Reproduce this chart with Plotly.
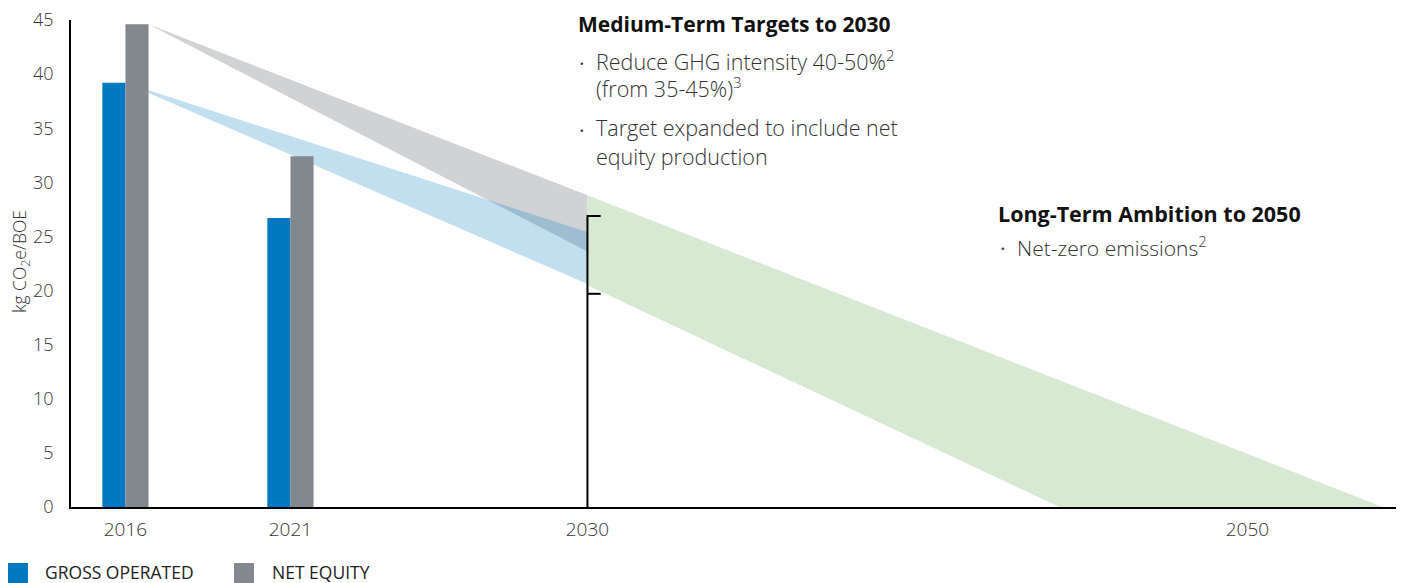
import plotly.graph_objects as go

# ---------------- data ----------------
bar_years = [2016, 2021]
gross_operated = [39.2, 26.7]
net_equity = [44.6, 32.4]

tick_years = [2016, 2021, 2030, 2050]
tick_labels = ["2016", "2021", "2030", "2050"]
y_ticks = [0, 5, 10, 15, 20, 25, 30, 35, 40, 45]

target_year = 2030
net_equity_2030_range = [28.8, 23.6]      # top, bottom of net-equity pathway at 2030
gross_operated_2030_range = [25.4, 20.6]  # top, bottom of gross-operated pathway at 2030
net_zero_2030_range = [28.8, 20.5]        # top, bottom of long-term band at 2030
net_zero_years = [2054.1, 2044.3]         # years at which top / bottom edge reach zero
target_bracket = [26.9, 19.7]             # bracket marks at 2030

# ---------------- style ----------------
BLUE = "#0079C1"
GREY = "#83878E"
GREY_BAND = "#D1D2D4"
BLUE_BAND = "#C2DFF0"
OVERLAP = "#9EBDD1"
GREEN_BAND = "#D7E9D3"
TEXT = "#333333"
FONT = "Open Sans"

OFF = 8                      # page body margin
W, H = 1404 - 2 * OFF, 583 - OFF
L, T = 71 - OFF, 20 - OFF
PW, PH = 1325, 487
R, B = W - L - PW, H - T - PH
BAR_W = 0.7
X_RANGE = [2014.35, 2014.35 + PW / 33.0]


def px_x(px):  # page pixel -> paper
    return (px - OFF - L) / PW


def px_y(py):
    return (T + PH - (py - OFF)) / PH


fig = go.Figure()

fig.add_trace(go.Bar(x=bar_years, y=gross_operated, width=BAR_W, offset=-BAR_W,
                     marker=dict(color=BLUE, line=dict(width=0)), name="GROSS OPERATED",
                     showlegend=False))
fig.add_trace(go.Bar(x=bar_years, y=net_equity, width=BAR_W, offset=0,
                     marker=dict(color=GREY, line=dict(width=0)), name="NET EQUITY",
                     showlegend=False))


def path(points):
    return "M " + " L ".join(f"{x},{y}" for x, y in points) + " Z"


shapes = []
# net equity pathway (grey)
g0 = (bar_years[0] + BAR_W, net_equity[0])
grey_pts = [g0, (target_year, net_equity_2030_range[0]), (target_year, net_equity_2030_range[1])]
shapes.append(dict(type="path", xref="x", yref="y", path=path(grey_pts), fillcolor=GREY_BAND,
                   line=dict(width=0), layer="below"))
# gross operated pathway (blue)
b0 = (bar_years[0], gross_operated[0])
blue_pts = [b0, (target_year, gross_operated_2030_range[0]), (target_year, gross_operated_2030_range[1])]
shapes.append(dict(type="path", xref="x", yref="y", path=path(blue_pts), fillcolor=BLUE_BAND,
                   line=dict(width=0), layer="below"))


# overlap between the two pathways
def line_at(p, q):
    s = (q[1] - p[1]) / (q[0] - p[0])
    return s, p[1] - s * p[0]


s1, c1 = line_at(b0, (target_year, gross_operated_2030_range[0]))
s2, c2 = line_at(g0, (target_year, net_equity_2030_range[1]))
xi = (c2 - c1) / (s1 - s2)
yi = s1 * xi + c1
ov_pts = [(xi, yi), (target_year, gross_operated_2030_range[0]), (target_year, net_equity_2030_range[1])]
shapes.append(dict(type="path", xref="x", yref="y", path=path(ov_pts), fillcolor=OVERLAP,
                   line=dict(width=0), layer="below"))
# long-term band (green)
green_pts = [(target_year, net_zero_2030_range[0]), (net_zero_years[0], 0),
             (net_zero_years[1], 0), (target_year, net_zero_2030_range[1])]
shapes.append(dict(type="path", xref="x", yref="y", path=path(green_pts), fillcolor=GREEN_BAND,
                   line=dict(width=0), layer="below"))

# bracket at 2030
TICK_LEN = 0.4
fig.add_trace(go.Scatter(
    x=[target_year + TICK_LEN, target_year, target_year, None, target_year, target_year + TICK_LEN],
    y=[target_bracket[0], target_bracket[0], 0, None, target_bracket[1], target_bracket[1]],
    mode="lines", line=dict(color="black", width=2), showlegend=False, hoverinfo="skip"))

# legend (manual)
legend_items = [("GROSS OPERATED", BLUE, 8, 43), ("NET EQUITY", GREY, 234, 270)]
annotations = []
for label, col, sx, tx in legend_items:
    shapes.append(dict(type="rect", xref="paper", yref="paper", x0=px_x(sx), x1=px_x(sx + 20),
                       y0=px_y(583), y1=px_y(563), fillcolor=col, line=dict(width=0)))
    annotations.append(dict(xref="paper", yref="paper", x=px_x(tx), y=px_y(572), text=label,
                            showarrow=False, xanchor="left", yanchor="middle",
                            font=dict(family=FONT, size=17.5, color="#222")))

# y-axis title
annotations.append(dict(xref="paper", yref="paper", x=px_x(20), y=px_y(262),
                        text="kg CO<sub>2</sub>e/BOE", textangle=-90, showarrow=False,
                        xanchor="center", yanchor="middle",
                        font=dict(family=FONT, size=17.5, color=TEXT, weight=300)))


def txt(x, y, text, size=21.5, bold=False):
    annotations.append(dict(xref="paper", yref="paper", x=x, y=px_y(y),
                            text=text, showarrow=False,
                            xanchor="left", yanchor="middle",
                            font=dict(family=FONT, size=size, color="#111" if bold else TEXT,
                                      weight=700 if bold else 300)))


txt(px_x(576), 24, "Medium-Term Targets to 2030", size=21, bold=True)
txt(px_x(577), 63, "•", size=15)
txt(px_x(594), 61, "Reduce GHG intensity 40-50%<sup>2</sup>")
txt(px_x(594), 88, "(from 35-45%)<sup>3</sup>")
txt(px_x(577), 130, "•", size=15)
txt(px_x(594), 128, "Target expanded to include net")
txt(px_x(594), 156, "equity production")
txt(px_x(996), 213, "Long-Term Ambition to 2050", size=21.5, bold=True)
txt(px_x(998), 248, "•", size=15)
txt(px_x(1015), 246, "Net-zero emissions<sup>2</sup>", size=21)

fig.update_layout(
    width=W, height=H, margin=dict(l=L, r=R, t=T, b=B, autoexpand=False),
    plot_bgcolor="white", paper_bgcolor="white", barmode="overlay",
    font=dict(family=FONT, color=TEXT), shapes=shapes, annotations=annotations,
    showlegend=False,
)
fig.update_xaxes(range=X_RANGE, tickmode="array", tickvals=tick_years, ticktext=tick_labels,
                 showgrid=False, zeroline=False, showline=True, linecolor="black", linewidth=1.5,
                 ticks="", ticklabelstandoff=4, ticklabeloverflow="allow",
                 tickfont=dict(family=FONT, size=19, color=TEXT, weight=300))
fig.update_yaxes(range=[0, 45], tickmode="array", tickvals=y_ticks, showgrid=False,
                 zeroline=False, showline=True, linecolor="black", linewidth=1.5, ticks="",
                 ticklabelstandoff=12, ticklabeloverflow="allow",
                 tickfont=dict(family=FONT, size=18, color=TEXT, weight=300))

fig.write_html("out.html")
